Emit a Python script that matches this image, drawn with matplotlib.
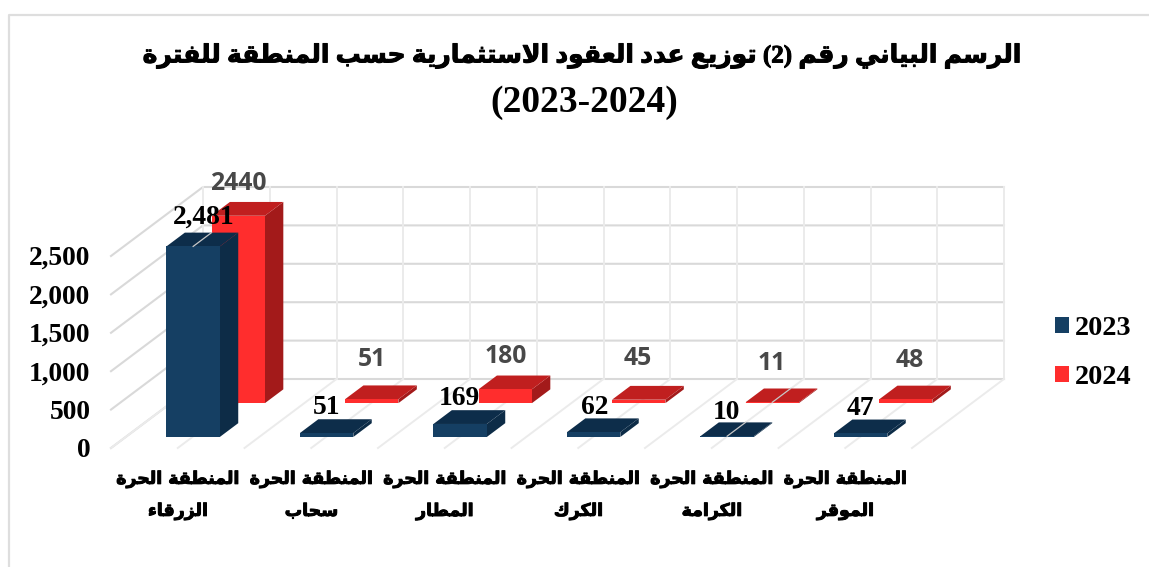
import re
import matplotlib
matplotlib.use("Agg")
import matplotlib.pyplot as plt
import matplotlib.patheffects as pe
from matplotlib.patches import Polygon, Patch

# ---------- data ----------
categories = [["المنطقة الحرة", "الزرقاء"], ["المنطقة الحرة", "سحاب"], ["المنطقة الحرة", "المطار"],
              ["المنطقة الحرة", "الكرك"], ["المنطقة الحرة", "الكرامة"], ["المنطقة الحرة", "الموقر"]]
values_2023 = [2481, 51, 169, 62, 10, 47]
values_2024 = [2440, 51, 180, 45, 11, 48]
labels_2023 = ["2,481", "51", "169", "62", "10", "47"]
labels_2024 = ["2440", "51", "180", "45", "11", "48"]
yticks = [0, 500, 1000, 1500, 2000, 2500]
ytick_labels = ["0", "500", "1,000", "1,500", "2,000", "2,500"]
series_names = ["2023", "2024"]
title_lines = ["الرسم البياني رقم (2) توزيع عدد العقود الاستثمارية حسب المنطقة للفترة", "(2023-2024)"]

# ---------- Arabic shaping (isolated, final, initial, medial) ----------
FORMS = {
    'ء': (0xFE80,), 'آ': (0xFE81, 0xFE82), 'أ': (0xFE83, 0xFE84), 'إ': (0xFE87, 0xFE88),
    'ا': (0xFE8D, 0xFE8E), 'ب': (0xFE8F, 0xFE90, 0xFE91, 0xFE92), 'ة': (0xFE93, 0xFE94),
    'ت': (0xFE95, 0xFE96, 0xFE97, 0xFE98), 'ث': (0xFE99, 0xFE9A, 0xFE9B, 0xFE9C),
    'ج': (0xFE9D, 0xFE9E, 0xFE9F, 0xFEA0), 'ح': (0xFEA1, 0xFEA2, 0xFEA3, 0xFEA4),
    'خ': (0xFEA5, 0xFEA6, 0xFEA7, 0xFEA8), 'د': (0xFEA9, 0xFEAA), 'ذ': (0xFEAB, 0xFEAC),
    'ر': (0xFEAD, 0xFEAE), 'ز': (0xFEAF, 0xFEB0), 'س': (0xFEB1, 0xFEB2, 0xFEB3, 0xFEB4),
    'ش': (0xFEB5, 0xFEB6, 0xFEB7, 0xFEB8), 'ص': (0xFEB9, 0xFEBA, 0xFEBB, 0xFEBC),
    'ض': (0xFEBD, 0xFEBE, 0xFEBF, 0xFEC0), 'ط': (0xFEC1, 0xFEC2, 0xFEC3, 0xFEC4),
    'ظ': (0xFEC5, 0xFEC6, 0xFEC7, 0xFEC8), 'ع': (0xFEC9, 0xFECA, 0xFECB, 0xFECC),
    'غ': (0xFECD, 0xFECE, 0xFECF, 0xFED0), 'ف': (0xFED1, 0xFED2, 0xFED3, 0xFED4),
    'ق': (0xFED5, 0xFED6, 0xFED7, 0xFED8), 'ك': (0xFED9, 0xFEDA, 0xFEDB, 0xFEDC),
    'ل': (0xFEDD, 0xFEDE, 0xFEDF, 0xFEE0), 'م': (0xFEE1, 0xFEE2, 0xFEE3, 0xFEE4),
    'ن': (0xFEE5, 0xFEE6, 0xFEE7, 0xFEE8), 'ه': (0xFEE9, 0xFEEA, 0xFEEB, 0xFEEC),
    'و': (0xFEED, 0xFEEE), 'ى': (0xFEEF, 0xFEF0), 'ي': (0xFEF1, 0xFEF2, 0xFEF3, 0xFEF4),
}


def shape(s):
    s = s.replace('لا', '\uFEFB')
    out = []
    for i, c in enumerate(s):
        if c == '\uFEFB':
            prev = s[i - 1] if i else ''
            joins = prev in FORMS and len(FORMS[prev]) == 4
            out.append('\uFEFC' if joins else '\uFEFB')
            continue
        f = FORMS.get(c)
        if f is None:
            out.append(c)
            continue
        prev = s[i - 1] if i else ''
        nxt = s[i + 1] if i + 1 < len(s) else ''
        jp = prev in FORMS and len(FORMS[prev]) == 4
        jn = (nxt in FORMS or nxt == '\uFEFB') and len(f) == 4
        if jp and jn:
            out.append(chr(f[3]))
        elif jn:
            out.append(chr(f[2]))
        elif jp and len(f) > 1:
            out.append(chr(f[1]))
        else:
            out.append(chr(f[0]))
    tokens = re.findall(r'[0-9\-]+|.', ''.join(out))
    mirror = {'(': ')', ')': '('}
    return ''.join(mirror.get(t, t) for t in reversed(tokens))


# ---------- layout ----------
W, H = 1149, 567
X0, Y0 = 111.0, 448.0     # front-left floor corner
CAT_W = 133.5
DEPTH_X, DEPTH_Y = 92.0, -69.0
PX_PER_UNIT = 192.0 / 2500
N = len(categories)
BAR_U, BAR_W = 0.305, 0.40
DEPTHS = [(0.16, 0.36), (0.65, 0.85)]
COL_FRONT = ["#153F63", "#FF2D2D"]
COL_SIDE = ["#0D2C47", "#A31A1A"]
COL_TOP = ["#0D2D4A", "#C01F1F"]
GRID = "#D9D9D9"
GRID_L = "#EBEBEB"
FS_SERIF = 19.8
SERIF = {"family": "Liberation Serif", "weight": "bold"}
HEAVY = [pe.withStroke(linewidth=0.7, foreground="black")]


def P(u, d, v=0.0):
    return (X0 + u * CAT_W + d * DEPTH_X, Y0 + d * DEPTH_Y - v * PX_PER_UNIT)


fig = plt.figure(figsize=(W / 100, H / 100), dpi=100, facecolor="white")
ax = fig.add_axes([0, 0, 1, 1])
ax.set_xlim(0, W)
ax.set_ylim(H, 0)
ax.axis("off")

# chart frame
ax.plot([8.5, 8.5, W], [H, 15, 15], color="#DEDEDE", lw=1.6, zorder=1)

# walls and floor grid
for v in yticks:
    ax.plot(*zip(P(0, 0, v), P(0, 1, v), P(N, 1, v)), color=GRID, lw=1.5, zorder=1)
for k in range(2 * N + 1):
    u = k / 2
    ax.plot(*zip(P(u, 1, 0), P(u, 1, yticks[-1])), color=GRID_L, lw=1.4, zorder=1)
    ax.plot(*zip(P(u, 0, 0), P(u, 1, 0)), color=GRID_L, lw=1.4, zorder=1)


def bar(i, s, v, z):
    u0, u1 = i + BAR_U, i + BAR_U + BAR_W
    d0, d1 = DEPTHS[s]
    ax.add_patch(Polygon([P(u1, d0), P(u1, d1), P(u1, d1, v), P(u1, d0, v)], fc=COL_SIDE[s], ec="none", zorder=z))
    ax.add_patch(Polygon([P(u0, d0, v), P(u1, d0, v), P(u1, d1, v), P(u0, d1, v)], fc=COL_TOP[s], ec="none", zorder=z))
    ax.add_patch(Polygon([P(u0, d0), P(u1, d0), P(u1, d0, v), P(u0, d0, v)], fc=COL_FRONT[s], ec="none", zorder=z))


def leader(i, s, v, z):
    d0, d1 = DEPTHS[s]
    u = i + BAR_U + BAR_W / 2
    ax.plot(*zip(P(u, d0, v), P(u, d1, v)), color="#C8C8C8", lw=0.9, zorder=z)


for i, v in enumerate(values_2024):
    bar(i, 1, v, 3)
for i, v in enumerate(values_2023):
    bar(i, 0, v, 4)
leader(0, 0, values_2023[0], 5)
leader(4, 0, values_2023[4], 5)
leader(4, 1, values_2024[4], 5)

# value labels, offset in pixels from the bar's front-top-left corner
off_2023 = [(37, -29), (27, -26), (26, -25), (28, -25), (26, -24), (26, -25)]
off_2024 = [(27, -32), (27, -40), (27, -33), (26, -41), (26, -39), (31, -39)]
for i, (v, t) in enumerate(zip(values_2023, labels_2023)):
    x, y = P(i + BAR_U, DEPTHS[0][0], v)
    ax.text(x + off_2023[i][0], y + off_2023[i][1], t, ha="center", va="center", fontsize=FS_SERIF,
            color="black", zorder=6, **SERIF)
for i, (v, t) in enumerate(zip(values_2024, labels_2024)):
    x, y = P(i + BAR_U, DEPTHS[1][0], v)
    ax.text(x + off_2024[i][0], y + off_2024[i][1], t, ha="center", va="center", fontsize=17.8,
            color="#484848", family="Open Sans", weight="bold", zorder=6)

# y tick labels
for v, t in zip(yticks, ytick_labels):
    ax.text(90.5, P(0, 0, v)[1] + 2.5, t, ha="right", va="center", fontsize=FS_SERIF, color="black", **SERIF)

# category labels
for i, lines in enumerate(categories):
    for line, y in zip(lines, (479, 511)):
        ax.text(178 + i * CAT_W, y, shape(line), ha="center", va="center", fontsize=12.5,
                family="DejaVu Sans", weight="bold", color="black", path_effects=HEAVY)

# title
ax.text(583, 56, shape(title_lines[0]), ha="center", va="center", fontsize=18,
        family=["Liberation Serif", "DejaVu Sans"], weight="bold", color="black", path_effects=HEAVY)
ax.text(584, 102, title_lines[1], ha="center", va="center", fontsize=27,
        color="black", **SERIF)

# legend
handles = [Patch(fc=COL_FRONT[0], label=series_names[0]), Patch(fc=COL_FRONT[1], label=series_names[1])]
ax.legend(handles=handles, loc="center left", bbox_to_anchor=(1055, 353), bbox_transform=ax.transData,
          frameon=False, handlelength=0.49, handleheight=0.49, handletextpad=0.2, labelspacing=0.85,
          borderpad=0, borderaxespad=0,
          prop={"family": "Liberation Serif", "weight": "bold", "size": 20.3})

fig.savefig("out.png", dpi=100, facecolor="white")
